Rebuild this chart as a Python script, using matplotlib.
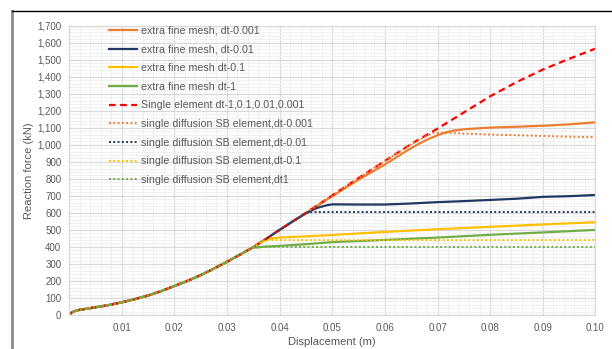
import numpy as np
import matplotlib
matplotlib.use("Agg")
import matplotlib.pyplot as plt
from matplotlib.lines import Line2D
from matplotlib.ticker import FuncFormatter, MultipleLocator

plt.rcParams['font.family'] = ['Liberation Sans', 'DejaVu Sans']

# shared loading branch (all runs coincide up to ~0.035 m)
disp_common = [0, 0.0005, 0.001, 0.002, 0.003, 0.005, 0.0075, 0.01, 0.0125, 0.015,
               0.0175, 0.02, 0.0225, 0.025, 0.0275, 0.03, 0.0325, 0.035]
force_common = [0, 14, 22, 30, 35, 45, 58, 74, 93, 114,
                140, 170, 200, 234, 272, 312, 355, 398]

# extra fine mesh runs
fine_001_x = [0.0375, 0.04, 0.045, 0.05, 0.055, 0.06, 0.064, 0.066, 0.068, 0.07,
              0.071, 0.072, 0.073, 0.075, 0.08, 0.085, 0.09, 0.095, 0.1]
fine_001_y = [448, 500, 598, 698, 795, 884, 962, 998, 1030, 1056,
              1067, 1076, 1083, 1091, 1101, 1106, 1112, 1120, 1132]

fine_01_x = [0.0375, 0.04, 0.0425, 0.045, 0.047, 0.049, 0.05, 0.055, 0.06, 0.065,
             0.07, 0.075, 0.08, 0.085, 0.09, 0.095, 0.1]
fine_01_y = [448, 500, 550, 598, 628, 645, 650, 649, 649, 655,
             663, 669, 676, 683, 694, 698, 705]

fine_1_x = [0.036, 0.037, 0.038, 0.04, 0.045, 0.05, 0.06, 0.07, 0.08, 0.09, 0.1]
fine_1_y = [417, 436, 448, 455, 462, 470, 488, 504, 518, 532, 545]

fine_10_x = [0.0355, 0.037, 0.04, 0.045, 0.05, 0.06, 0.07, 0.08, 0.09, 0.1]
fine_10_y = [396, 401, 406, 416, 428, 441, 455, 471, 485, 500]

# single element (all dt)
single_x = [0.0375, 0.04, 0.045, 0.05, 0.055, 0.06, 0.065, 0.07, 0.075, 0.08,
            0.085, 0.09, 0.095, 0.1]
single_y = [448, 500, 600, 703, 805, 905, 1005, 1095, 1190, 1285,
            1368, 1442, 1505, 1565]

# single diffusion SB element runs
sb_001_x = [0.0375, 0.04, 0.045, 0.05, 0.055, 0.06, 0.065, 0.069, 0.071, 0.075,
            0.08, 0.085, 0.09, 0.095, 0.1]
sb_001_y = [448, 500, 600, 703, 805, 905, 1003, 1070, 1071, 1066,
            1060, 1056, 1052, 1048, 1045]

sb_01_x = [0.0375, 0.04, 0.0425, 0.045, 0.046, 0.047, 0.1]
sb_01_y = [448, 500, 550, 598, 604, 605, 605]

sb_1_x = [0.036, 0.037, 0.0375, 0.1]
sb_1_y = [417, 436, 440, 440]

sb_10_x = [0.0355, 0.036, 0.1]
sb_10_y = [398, 400, 400]

labels = [
    "extra fine mesh, dt-0.001",
    "extra fine mesh, dt-0.01",
    "extra fine mesh dt-0.1",
    "extra fine mesh dt-1",
    "Single element dt-1,0.1,0.01,0.001",
    "single diffusion SB element,dt-0.001",
    "single diffusion SB element,dt-0.01",
    "single diffusion SB element,dt-0.1",
    "single diffusion SB element,dt1",
]

ORANGE = "#ED7D31"
NAVY = "#203864"
YELLOW = "#FFC000"
GREEN = "#70AD47"
RED = "#FF0000"
TXT = "#595959"

series = [
    (fine_001_x, fine_001_y, ORANGE, "-", 1.6),
    (fine_01_x, fine_01_y, NAVY, "-", 1.6),
    (fine_1_x, fine_1_y, YELLOW, "-", 1.6),
    (fine_10_x, fine_10_y, GREEN, "-", 1.6),
    (single_x, single_y, RED, (0, (3, 2)), 1.6),
    (sb_001_x, sb_001_y, ORANGE, (0, (1, 1.2)), 1.4),
    (sb_01_x, sb_01_y, NAVY, (0, (1, 1.2)), 1.4),
    (sb_1_x, sb_1_y, YELLOW, (0, (1, 1.2)), 1.4),
    (sb_10_x, sb_10_y, GREEN, (0, (1, 1.2)), 1.4),
]

fig = plt.figure(figsize=(6.12, 3.49), dpi=100)
ax = fig.add_axes([0.1127, 0.0975, 0.8603, 0.829])

for (xs, ys, color, ls, lw), label in zip(series, labels):
    x = np.array(disp_common + xs)
    y = np.array(force_common + ys)
    ax.plot(x, y, color=color, linestyle=ls, linewidth=lw, label=label)

ax.set_xlim(0, 0.1)
ax.set_ylim(0, 1700)
ax.xaxis.set_major_locator(MultipleLocator(0.01))
ax.xaxis.set_minor_locator(MultipleLocator(0.002))
ax.yaxis.set_major_locator(MultipleLocator(100))
ax.yaxis.set_minor_locator(MultipleLocator(20))
ax.xaxis.set_major_formatter(FuncFormatter(lambda v, p: "" if abs(v) < 1e-9 else f"{v:.2f}"))
ax.yaxis.set_major_formatter(FuncFormatter(lambda v, p: f"{int(round(v)):,}"))
ax.grid(which="major", color="#d9d9d9", linewidth=0.9)
ax.grid(which="minor", color="#f0f0f0", linewidth=0.7)
ax.set_axisbelow(True)
ax.tick_params(which="both", length=0, labelsize=7, labelcolor=TXT)
ax.tick_params(axis="x", pad=6)
ax.tick_params(axis="y", pad=5.5)
for s in ax.spines.values():
    s.set_color("#d9d9d9")
    s.set_linewidth(0.9)

ax.set_xlabel("Displacement (m)", fontsize=8, color=TXT, labelpad=3)
ax.set_ylabel("Reaction force (kN)", fontsize=8, color=TXT, labelpad=2)

ax.legend(loc="upper left", bbox_to_anchor=(0.076, 1.0), frameon=False,
          fontsize=7.7, labelcolor=TXT, borderpad=0, borderaxespad=0,
          handlelength=2.6, handletextpad=0.4, labelspacing=0.81)

# chart area frame (partly cropped)
fig.add_artist(Line2D([12 / 612, 12 / 612], [0, 1 - 11 / 349], transform=fig.transFigure,
                      color="#8c8c8c", linewidth=2))
fig.add_artist(Line2D([12 / 612, 1], [1 - 11 / 349, 1 - 11 / 349], transform=fig.transFigure,
                      color="#000000", linewidth=1))

fig.savefig("out.png", dpi=100)
